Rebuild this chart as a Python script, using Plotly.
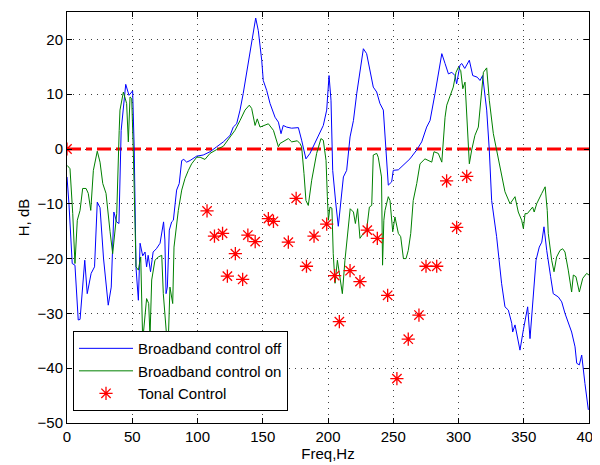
import plotly.graph_objects as go

# Broadband control off (blue)
off_x = [0, 1.5, 4.0, 6.1, 8.6, 10, 13.6, 15.5, 18.5, 21.1, 23.2, 25.3, 28.0, 31.6, 33.9, 35.9, 38, 39.8,
         41.5, 43.5, 45, 47.5, 50.3, 51.5, 52.9, 54.7, 56, 58, 59.8, 61, 62.2, 64, 66, 68.5, 71.3, 74, 75,
         75.9, 76.9, 78.4, 80.2, 81.5, 84, 86, 87.9, 89.5, 91.7, 94.3, 99.4, 104.4, 109.6, 114.7, 119.8,
         125, 127.4, 130, 132.6, 135, 140, 142.8, 144.6, 146.6, 149.2, 150.4, 153, 155.6, 159.4, 162, 164,
         165.7, 168.3, 172.1, 177.3, 179.8, 183.1, 186.2, 191.3, 196.4, 199, 200.8, 202.3, 203.6, 206, 207.9,
         211.8, 214.3, 216.9, 219.5, 222, 224.5, 227.1, 229.6, 232.2, 234.7, 237.3, 239.8, 242.4, 244.2,
         246.2, 248.8, 250, 253.9, 257.7, 262.8, 267.9, 271.8, 275.6, 278.2, 282, 285.3, 287.2, 289.7,
         292.3, 294.9, 297.3, 298.6, 301.1, 302.5, 304.8, 308.3, 310.9, 314.4, 316.5, 318.5, 321.6, 323.6,
         325.4, 329.2, 333, 335.6, 338.2, 340.8, 341.5, 343.3, 345.8, 347.1, 349.7, 351.7, 353, 354.8,
         356.8, 359.4, 361.9, 363.8, 365.5, 367.6, 370.6, 372.6, 376.5, 379.1, 381.6, 386.7, 389.3, 390.6,
         392.6, 394.4, 396.9, 399.5]
off_y = [-5.1, -10, -20.9, -21.2, -31.2, -31.1, -20.3, -26.4, -22.7, -21.5, -9.7, -10.7, -20, -28.5, -25.2,
         -11.5, -13.3, -13.6, 3.4, 9, 11.8, 9.8, 10.6, 0, -21.7, -27.6, -17.2, -19.5, -18.8, -21.5, -19.4,
         -22.4, -18.8, -18.2, -17.2, -13.3, -16.6, -26.4, -25.2, -14.8, -13.3, -13.0, -7.5, -6.3, -2.1, -1.9,
         -2.4, -2.1, -1.3, -1.1, -0.5, 0.4, 1.3, 2.5, 4.0, 4.6, 7.1, 10.1, 17.4, 21.9, 23.9, 21.6, 16.2, 12.5,
         10.7, 8.3, 5.8, 4.9, 2.8, 4.3, 4.0, 3.8, 3.9, 1.6, -1.8, -0.8, 1.6, 4.3, 7.1, 13.4, 8.9, -3.9, -10,
         -14.1, -5.1, -3.9, 2.2, 5.2, 10.1, 14.3, 18.3, 17.4, 14.3, 11.3, 10.4, 8.3, 7.1, -0.2, -6.6, -6.0,
         -3.9, -3.8, -3.0, -1.8, -0.2, 1.3, 4.0, 5.2, 10.1, 14.7, 17.4, 15.6, 13.7, 14.0, 13.4, 11.9, 15.3,
         15.6, 14.7, 16.2, 13.4, 13.1, 12.5, 13.4, 7.1, -0.2, -9.4, -16, -24.5, -28.8, -29.4, -31.8, -33.4,
         -32.1, -35.5, -36.7, -33, -30.6, -28.8, -34.6, -28.8, -20.3, -17.9, -17, -14.2, -18.5, -23.3, -26.4,
         -27, -27.9, -30, -33.4, -36.1, -39.1, -39.4, -37.6, -42.8, -47.6]

# Broadband control on (green)
on_x = [0.2, 2.3, 4.4, 6.1, 7.9, 10, 12, 14.6, 16.3, 18.2, 20.2, 23.2, 25.3, 27.4, 29.9, 31.6, 33, 35,
        36.8, 38.1, 40, 40.6, 43.2, 45.7, 47, 48.3, 49.6, 50.8, 52.9, 54.7, 56.5, 58, 61, 62.6, 63.6, 64.9,
        67.4, 70, 72.6, 73.8, 76.4, 77.5, 78.9, 81, 82, 84, 85.3, 87.9, 90.4, 93, 95.5, 99.4, 102, 105.7,
        109.6, 114.7, 119.8, 125, 128.7, 132.6, 136.4, 139.7, 141.5, 144.1, 145.8, 147.9, 151.7, 154.3,
        158.2, 160.8, 162, 163.2, 167.1, 169.6, 172.2, 176.5, 178.5, 179.8, 181.6, 183.1, 184.9, 187.5,
        191.3, 194.6, 196.4, 198.5, 199.5, 200.3, 201.5, 203, 204, 205.4, 207.2, 209.2, 211, 213, 215.2,
        217, 219.5, 221, 222.7, 224.5, 227.1, 229.6, 231.7, 233.5, 234.7, 237.3, 238.5, 239.3, 241, 241.8,
        242.8, 243.7, 246.2, 247.5, 249.6, 251.3, 253.9, 255.7, 257.8, 259.8, 261.5, 263.4, 265.3, 268,
        270.5, 274.3, 276.9, 279.5, 281.2, 284.5, 287.2, 289.7, 291, 293.5, 296, 298.1, 299.9, 301.7,
        303.3, 305, 306.8, 308.3, 310.1, 312.6, 315.2, 317, 319.1, 321.6, 323.6, 326.7, 329.2, 331.8,
        335.6, 339.5, 343.3, 345.8, 348.4, 349.7, 351, 352.7, 354.8, 356.8, 358, 359.9, 363.8, 366.4, 368,
        368.8, 371.4, 373.2, 375.2, 377.8, 379.8, 381.6, 384.1, 386.7, 388, 390, 392.6, 395.2, 398.2, 400]
on_y = [-3.0, -3.6, -11.8, -20.9, -13, -11.2, -7.2, -7.2, -8.1, -11.2, -3.9, -0.4, -2.4, -6.3, -8.1, -12.4,
        -15.1, -19.1, -14.8, -11.8, 3.4, 7.1, 10.4, 8.3, 1.3, 9.5, 9.2, -0.2, -21.5, -22.1, -19.7, -35,
        -27.3, -28.2, -34.3, -23.9, -20.3, -19.7, -19.4, -26.4, -34.3, -36, -25.2, -28.2, -17.9, -13.6,
        -11.2, -7.5, -5.4, -3.9, -2.7, -1.5, -1.5, -1.9, -0.8, -0.1, 0.5, 2.2, 3.4, 5.2, 7.1, 8.0, 7.4, 4.3,
        5.5, 4.0, 4.3, 4.6, 3.4, 1.6, 0.4, 1.0, 1.6, 1.9, 1.3, 1.5, 1.0, 0.4, -4.5, -9.4, -10.3, -5.7, -0.8,
        1.9, 1.6, -2.1, -8.7, -13, -10.6, -10.8, -19.1, -24.5, -20.3, -23.3, -26.4, -20.3, -14.8, -10.9,
        -11.5, -13.6, -10.9, -16.3, -15.4, -14.8, -10.6, -10.3, -1.1, -0.8, -1.5, -2.7, -5.1, -21.2, -13,
        -11.2, -8.7, -9.4, -15.1, -12.4, -15.4, -16, -20, -20, -18.5, -15.4, -9.4, -6.3, -2.7, -1.8, -2.1,
        -2.4, -0.5, -0.8, -2.4, 5.8, 8.0, 9.5, 11.3, 14.0, 14.9, 14.3, 11.0, 12.2, 4.0, -2.7, -0.2, 2.5, 4.0,
        8.3, 14.0, 14.8, 8.9, 2.8, -0.2, -3.9, -7.8, -10, -8.7, -11.5, -13, -14.5, -11.8, -11.8, -11.2,
        -10.6, -11.5, -10, -8.1, -6.9, -11.2, -15.4, -20.3, -22.4, -19.7, -18.5, -18.2, -18.8, -22.1, -26.1,
        -23, -23.3, -26.1, -23.6, -22.7, -23]

# Tonal control (red stars)
tonal_x = [0, 107.3, 113, 119.2, 122.9, 129, 134.6, 138.6, 144.2, 154.3, 158.2, 169.6, 175.6, 183.5,
           189.3, 199, 205.1, 208.7, 216.9, 224.5, 230.1, 237.8, 245.7, 252.8, 261.5, 269.7, 275.1, 283.3,
           290.9, 298.6, 306.3]
tonal_y = [0, -11.3, -15.9, -15.4, -23.2, -19.1, -23.8, -15.7, -16.9, -12.7, -13.2, -17, -9.0, -21.4,
           -15.9, -13.7, -23.1, -31.5, -22.2, -24.2, -14.8, -16.3, -26.7, -41.9, -34.7, -30.3, -21.4, -21.4,
           -5.8, -14.3, -5.0]

# Zero reference line
ref_x = [0, 400]
ref_y = [0, 0]

x_ticks = [0, 50, 100, 150, 200, 250, 300, 350, 400]
y_ticks = [-50, -40, -30, -20, -10, 0, 10, 20]

FONT = "Liberation Sans, Arial, sans-serif"

fig = go.Figure()
fig.add_trace(go.Scatter(x=ref_x, y=ref_y, mode="lines", showlegend=False,
                         line=dict(color="#ff0000", width=3, dash="14px,5px,6px,5px")))
fig.add_trace(go.Scatter(x=off_x, y=off_y, mode="lines", name="Broadband control off",
                         line=dict(color="#0000ff", width=1)))
fig.add_trace(go.Scatter(x=on_x, y=on_y, mode="lines", name="Broadband control on",
                         line=dict(color="#008000", width=1)))
fig.add_trace(go.Scatter(x=tonal_x, y=tonal_y, mode="markers", name="Tonal Control",
                         marker=dict(symbol="asterisk-open", size=11, color="#ff0000",
                                     line=dict(color="#ff0000", width=1.3))))

axis_common = dict(showline=True, linecolor="black", linewidth=1, mirror="allticks",
                   ticks="inside", ticklen=5, tickcolor="black", showgrid=True,
                   gridcolor="rgba(0,0,0,0.75)", griddash="1px,5px", gridwidth=1,
                   zeroline=False, automargin=False,
                   tickfont=dict(family=FONT, size=15, color="black"))

# The page body has an 8px default margin; the plot area is placed so that it
# lands at (67..589, 12..423) in the 600x465 window.
fig.update_layout(
    width=600, height=465,
    margin=dict(l=59, r=19, t=4, b=50),
    paper_bgcolor="white", plot_bgcolor="white",
    font=dict(family=FONT, size=15, color="black"),
    xaxis=dict(range=[0, 400], tickvals=x_ticks,
               title=dict(text="Freq,Hz", font=dict(family=FONT, size=15), standoff=2),
               **axis_common),
    yaxis=dict(range=[-50, 25], tickvals=y_ticks,
               title=dict(text="H, dB", font=dict(family=FONT, size=15), standoff=4),
               **axis_common),
    legend=dict(x=0.0115, y=0.029, xanchor="left", yanchor="bottom",
                bgcolor="white", bordercolor="black", borderwidth=1,
                font=dict(family=FONT, size=15, color="black"),
                itemwidth=54, tracegroupgap=0),
    showlegend=True,
)

fig.write_html("out.html")
